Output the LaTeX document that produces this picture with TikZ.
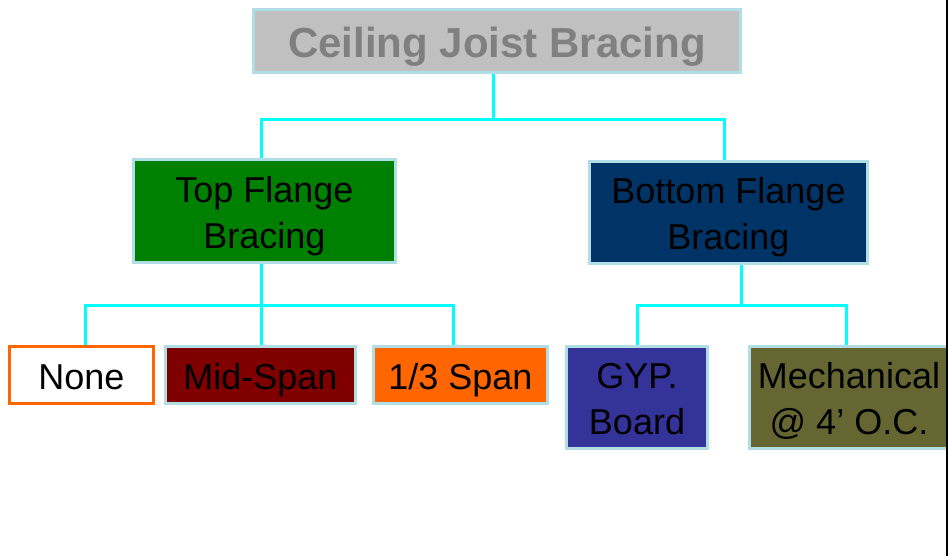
\documentclass[tikz,border=0pt]{standalone}
\usepackage{fontspec}
\setmainfont{Liberation Sans}
\usetikzlibrary{positioning}
\definecolor{edgeblue}{HTML}{B0DEE4}
\definecolor{wire}{HTML}{00FFFF}
\definecolor{titlefill}{HTML}{C0C0C0}
\definecolor{titletext}{HTML}{808080}
\definecolor{topgreen}{HTML}{008000}
\definecolor{botnavy}{HTML}{003366}
\definecolor{nonering}{HTML}{FF6600}
\definecolor{midred}{HTML}{800000}
\definecolor{thirdorange}{HTML}{FF6600}
\definecolor{gypblue}{HTML}{333399}
\definecolor{mecholive}{HTML}{666633}
% feste Zeilenhoehe, damit der Text in allen Kaesten gleich sitzt
\def\ln{\rule[-9pt]{0pt}{46pt}}
\def\lt{\rule[-10pt]{0pt}{54pt}}

\begin{document}
\begin{tikzpicture}[x=1pt,y=-1pt,
		box/.style={draw=edgeblue,line width=3pt,inner sep=0pt,align=center,
			font=\fontsize{36}{46}\selectfont},
		link/.style={draw=wire,line width=3pt}]
		
		\useasboundingbox (0,0) rectangle (948,556);
		
		% ============ Kopf ============
		\node[box,fill=titlefill,text=titletext,minimum width=487pt,minimum height=63pt,
			font=\fontsize{42}{50}\selectfont\bfseries] (title) at (497,41) {\lt Ceiling Joist Bracing};
		
		% ============ zweite Ebene ============
		\node[box,fill=topgreen,minimum width=262pt,minimum height=103pt] (topfl) at (264.5,211) {\ln Top Flange\\\ln Bracing};
		\node[box,fill=botnavy,minimum width=278pt,minimum height=102pt] (botfl) at (728.5,212.5) {\ln Bottom Flange\\\ln Bracing};
		
		% ============ dritte Ebene ============
		\node[box,draw=nonering,fill=white,minimum width=144pt,minimum height=57pt] (none) at (81.5,375) {\ln None};
		\node[box,fill=midred,minimum width=190pt,minimum height=57pt] (mid) at (260.5,375) {\ln Mid-Span};
		\node[box,fill=thirdorange,minimum width=174pt,minimum height=57pt] (third) at (460.5,375) {\ln 1/3 Span};
		\node[box,fill=gypblue,minimum width=141pt,minimum height=102pt] (gyp) at (637,397.5) {\ln GYP.\\\ln Board};
		\node[box,fill=mecholive,minimum width=199pt,minimum height=102pt] (mech) at (849,397.5) {\ln Mechanical\\\ln @ 4’ O.C.};
		
		% ============ Verbindungen ============
		\coordinate (busA) at (493,120);
		\coordinate (busB) at (261,305);
		\coordinate (busC) at (741,305);
		\draw[link] (busA |- title.south) -- (busA);
		\draw[link] (busA) -| ([xshift=-3.5pt]topfl.north);
		\draw[link] (busA) -| ([xshift=-4.5pt]botfl.north);
		
		\draw[link] (busB |- topfl.south) -- (busB);
		\draw[link] (busB) -| ([xshift=3.5pt]none.north);
		\draw[link] (busB) -- (busB |- mid.north);
		\draw[link] (busB) -| ([xshift=-7.5pt]third.north);
		
		\draw[link] (busC |- botfl.south) -- (busC);
		\draw[link] (busC) -| (gyp.north);
		\draw[link] (busC) -| ([xshift=-3pt]mech.north);
		
		% Randlinie rechts
		\draw[line width=2pt] (947,0) -- (947,556);
		
	\end{tikzpicture}
\end{document}
